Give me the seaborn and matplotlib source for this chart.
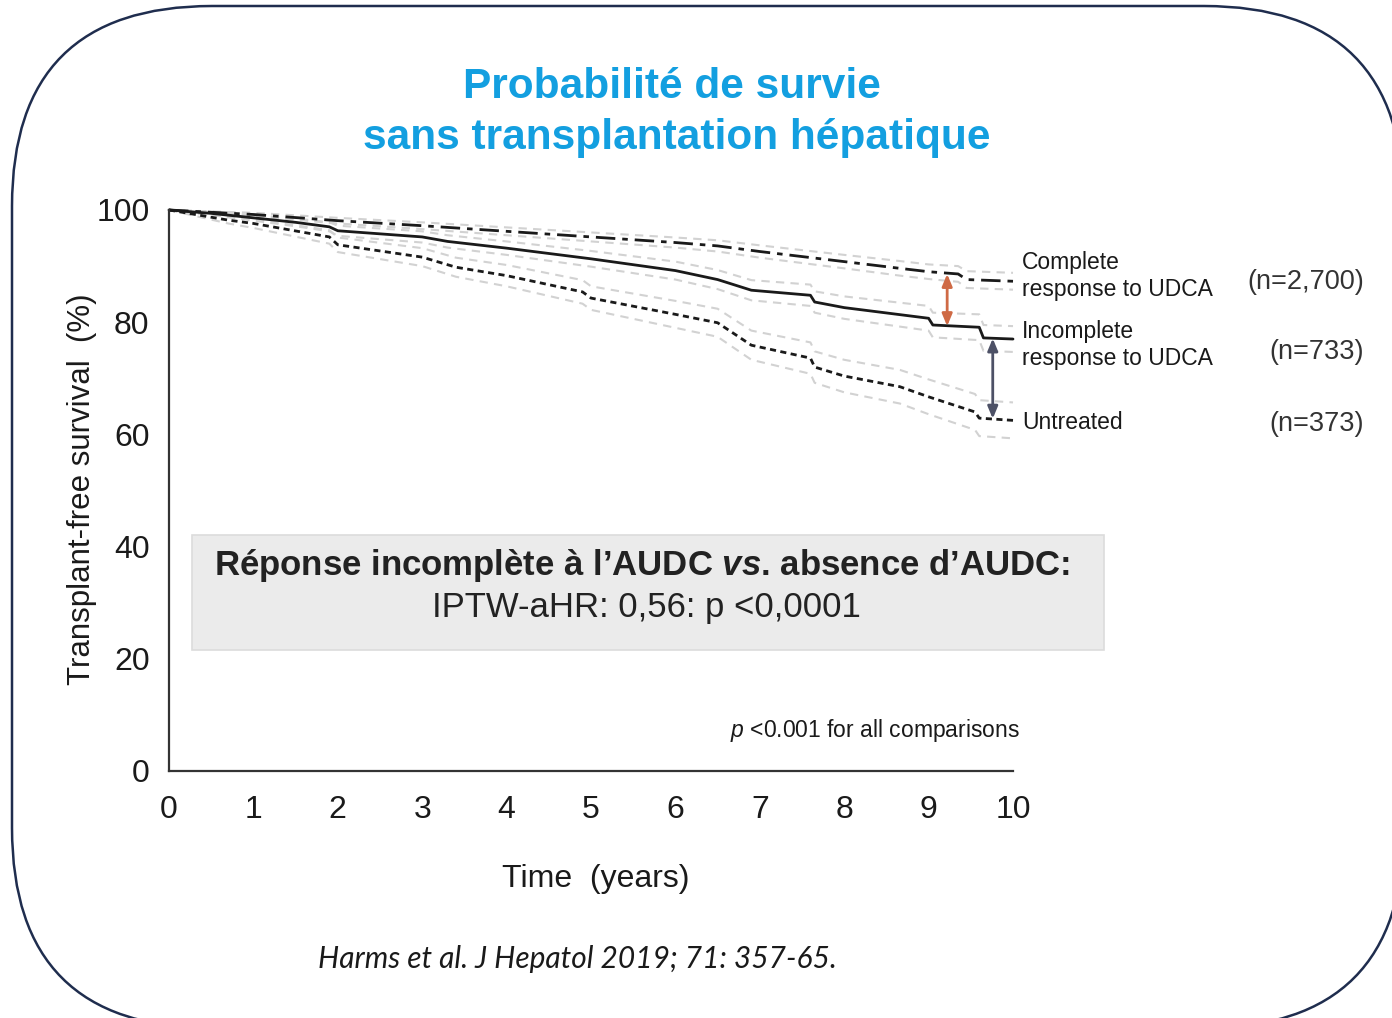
import numpy as np
import pandas as pd
import matplotlib
matplotlib.use("Agg")
import matplotlib.pyplot as plt
import seaborn as sns
from matplotlib.patches import FancyBboxPatch, Rectangle

# ---------------- data ----------------
# Complete response to UDCA
complete_t = [0, 1.0, 2.0, 3.0, 4.0, 5.0, 6.0, 6.5, 7.0, 8.0, 8.66, 9.0, 9.35, 9.45, 10]
complete_s = [100, 99.2, 98.1, 97.2, 96.2, 95.2, 94.2, 93.6, 92.6, 90.8, 89.6, 89.0, 88.6, 87.6, 87.3]
complete_hi = [100, 99.5, 98.6, 97.8, 96.9, 96.0, 95.1, 94.6, 93.7, 92.0, 90.9, 90.3, 90.0, 89.1, 88.8]
complete_lo = [100, 98.9, 97.6, 96.6, 95.5, 94.4, 93.3, 92.6, 91.5, 89.6, 88.3, 87.7, 87.2, 86.1, 85.8]

# Incomplete response to UDCA
incomplete_t = [0, 0.5, 1.0, 1.5, 1.9, 2.0, 3.0, 3.3, 4.0, 5.0, 6.0, 6.5, 6.9, 7.6, 7.65,
                8.0, 9.0, 9.05, 9.6, 9.65, 10]
incomplete_s = [100, 99.4, 98.6, 97.8, 97.0, 96.3, 95.2, 94.4, 93.2, 91.3, 89.2, 87.6, 85.7,
                84.8, 83.6, 82.6, 80.7, 79.5, 79.1, 77.2, 77.0]
incomplete_hi = [100, 99.7, 99.1, 98.5, 97.8, 97.2, 96.2, 95.5, 94.4, 92.7, 90.8, 89.3, 87.5,
                 86.7, 85.5, 84.6, 82.9, 81.7, 81.4, 79.5, 79.3]
incomplete_lo = [100, 99.1, 98.1, 97.1, 96.2, 95.4, 94.2, 93.3, 92.0, 89.9, 87.6, 85.9, 83.9,
                 82.9, 81.7, 80.6, 78.5, 77.3, 76.8, 74.9, 74.7]

# Untreated
untreated_t = [0, 0.7, 1.0, 1.9, 2.0, 3.0, 3.4, 4.0, 4.9, 5.0, 6.0, 6.5, 6.9, 7.6, 7.65,
               8.0, 8.66, 9.0, 9.55, 9.6, 10]
untreated_s = [100, 98.2, 97.6, 95.2, 93.8, 91.6, 89.8, 88.3, 85.4, 84.3, 81.4, 79.9, 75.9,
               73.6, 72.0, 70.4, 68.5, 66.7, 64.0, 62.9, 62.5]
untreated_hi = [100, 98.8, 98.4, 96.4, 95.1, 93.2, 91.5, 90.2, 87.5, 86.4, 83.8, 82.4, 78.5,
                76.4, 74.8, 73.3, 71.5, 69.8, 67.2, 66.1, 65.7]
untreated_lo = [100, 97.6, 96.8, 94.0, 92.5, 90.0, 88.1, 86.4, 83.3, 82.2, 79.0, 77.4, 73.3,
                70.8, 69.2, 67.5, 65.5, 63.6, 60.8, 59.7, 59.3]

group_names = ["Complete", "Incomplete", "Untreated"]
group_labels = ["Complete\nresponse to UDCA", "Incomplete\nresponse to UDCA", "Untreated"]
group_n = ["(n=2,700)", "(n=733)", "(n=373)"]

x_ticks = [0, 1, 2, 3, 4, 5, 6, 7, 8, 9, 10]
y_ticks = [0, 20, 40, 60, 80, 100]

# ---------------- figure ----------------
sns.set_theme(style="white")
plt.rcParams["font.family"] = ["Liberation Sans", "DejaVu Sans"]
plt.rcParams["mathtext.fontset"] = "custom"
plt.rcParams["mathtext.rm"] = "Liberation Sans"
plt.rcParams["mathtext.it"] = "Liberation Sans:italic"
plt.rcParams["mathtext.bf"] = "Liberation Sans:bold"
plt.rcParams["mathtext.bfit"] = "Liberation Sans:bold:italic"

W, H = 1392, 1018
fig = plt.figure(figsize=(W / 100, H / 100), dpi=100)
fig.patch.set_facecolor("white")

# background frame (pixel coordinates)
bg = fig.add_axes([0, 0, 1, 1])
bg.set_xlim(0, W)
bg.set_ylim(H, 0)
bg.axis("off")
frame = FancyBboxPatch((12, 6), 1392, 1022,
                       boxstyle="round,pad=0,rounding_size=200",
                       fc="white", ec="#1f2d4e", lw=1.8)
bg.add_patch(frame)

# main axes
ax = fig.add_axes([169 / W, 1 - 771 / H, (1013 - 169) / W, (771 - 210) / H])
ax.set_facecolor("none")

series = {
    "Complete": (complete_t, complete_s, complete_hi, complete_lo),
    "Incomplete": (incomplete_t, incomplete_s, incomplete_hi, incomplete_lo),
    "Untreated": (untreated_t, untreated_s, untreated_hi, untreated_lo),
}

rows = []
for g, (t, s, hi, lo) in series.items():
    rows.append(pd.DataFrame({"time": t, "surv": s, "group": g, "kind": "est"}))
    rows.append(pd.DataFrame({"time": t, "surv": hi, "group": g, "kind": "hi"}))
    rows.append(pd.DataFrame({"time": t, "surv": lo, "group": g, "kind": "lo"}))
df = pd.concat(rows, ignore_index=True)

# confidence bands (light grey dashed)
for (g, k), sub in df[df["kind"] != "est"].groupby(["group", "kind"]):
    sns.lineplot(data=sub, x="time", y="surv", ax=ax, estimator=None,
                 color="#d2d2d2", lw=1.5, legend=False, clip_on=False,
                 linestyle=(0, (4, 3)))

styles = {"Complete": (0, (7, 2.5, 2, 2.5)),
          "Incomplete": "-",
          "Untreated": (0, (2.2, 1.6))}
for g in group_names:
    sub = df[(df["group"] == g) & (df["kind"] == "est")]
    sns.lineplot(data=sub, x="time", y="surv", ax=ax, estimator=None,
                 color="#1a1a1a", lw=2.0, legend=False, clip_on=False,
                 linestyle=styles[g])

ax.set_xlim(0, 10)
ax.set_ylim(0, 100)
ax.set_xticks(x_ticks)
ax.set_yticks(y_ticks)
ax.set_xticklabels([str(v) for v in x_ticks], fontsize=23)
ax.set_yticklabels([str(v) for v in y_ticks], fontsize=23)
ax.tick_params(axis="both", direction="out", length=12, width=1.6,
               color="#333333", labelcolor="#1a1a1a")
ax.tick_params(axis="y", pad=2)
ax.tick_params(axis="x", pad=5)
for side in ["top", "right"]:
    ax.spines[side].set_visible(False)
for side in ["left", "bottom"]:
    ax.spines[side].set_color("#333333")
    ax.spines[side].set_linewidth(1.6)
ax.set_xlabel("")
ax.set_ylabel("")

# axis titles
fig.text(596 / W, 1 - 879 / H, "Time  (years)", fontsize=23, color="#1a1a1a",
         ha="center", va="center")
fig.text(82 / W, 1 - 489 / H, "Transplant-free survival  (%)", fontsize=22.5,
         color="#1a1a1a", ha="center", va="center", rotation=90)

# arrows between curves
ax.annotate("", xy=(9.22, 79.3), xytext=(9.22, 88.6),
            arrowprops=dict(arrowstyle="<|-|>,head_length=0.6,head_width=0.25",
                            color="#cf6a45", lw=2.0, shrinkA=0, shrinkB=0))
ax.annotate("", xy=(9.76, 62.8), xytext=(9.76, 77.1),
            arrowprops=dict(arrowstyle="<|-|>,head_length=0.6,head_width=0.25",
                            color="#4d5166", lw=2.0, shrinkA=0, shrinkB=0))

# right-hand group labels
label_y_px = [276, 345, 423]
n_y_px = [282, 352, 424]
for lab, n, ly, ny in zip(group_labels, group_n, label_y_px, n_y_px):
    fig.text(1022 / W, 1 - ly / H, lab, fontsize=16.5, color="#1a1a1a",
             ha="left", va="center", linespacing=1.25)
    fig.text(1364 / W, 1 - ny / H, n, fontsize=19.5, color="#333333",
             ha="right", va="center")

# grey result box
bg.add_patch(Rectangle((192, 535), 912, 115, fc="#ebebeb", ec="#dcdcdc", lw=1.2))
bg.text(642, 565, "Réponse incomplète à l\u2019AUDC $\\mathbfit{vs}$. absence d\u2019AUDC:",
        fontsize=25, fontweight="bold", color="#222222", ha="center", va="center")
bg.text(646, 607, "IPTW-aHR: 0,56: p <0,0001", fontsize=25, color="#222222",
        ha="center", va="center")

# p-value note
bg.text(1020, 731, "$\\mathit{p}$ <0.001 for all comparisons", fontsize=16.5,
        color="#1a1a1a", ha="right", va="center")

# title
bg.text(672, 87, "Probabilité de survie", fontsize=30.5, fontweight="bold",
        color="#139fe0", ha="center", va="center")
bg.text(677, 138, "sans transplantation hépatique", fontsize=30.5, fontweight="bold",
        color="#139fe0", ha="center", va="center")

# citation
bg.text(577, 959, "Harms et al. J Hepatol 2019; 71: 357-65.", fontsize=21.5,
        fontstyle="italic", family=["Lato", "DejaVu Sans"], color="#1a1a1a",
        ha="center", va="center")

fig.savefig("out.png", dpi=100, facecolor="white")
